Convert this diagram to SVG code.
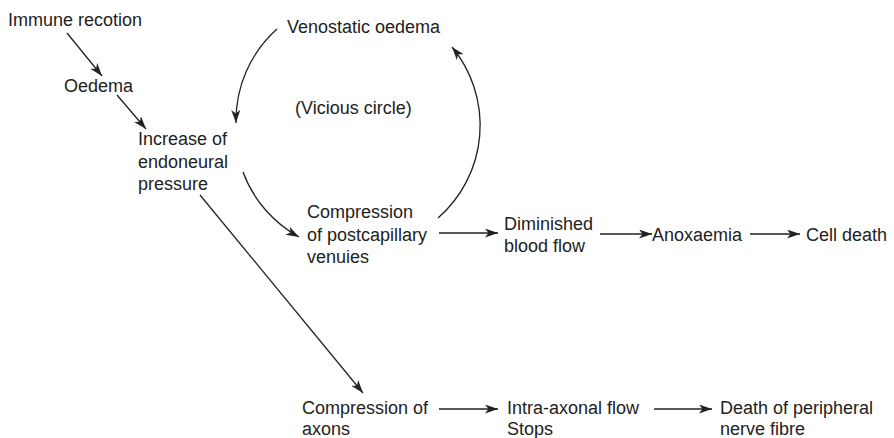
<svg xmlns="http://www.w3.org/2000/svg" width="894" height="438" viewBox="0 0 894 438">
<style>
text{font-family:"Liberation Sans",Arial,sans-serif;font-size:18px;fill:#222}
.c{fill:none;stroke:#222;stroke-width:1.3}
</style>
<defs>
<marker id="ah" markerUnits="userSpaceOnUse" markerWidth="14" markerHeight="10" refX="13" refY="4.5" orient="auto">
<path d="M0,0 L13,4.5 L0,9 L3.5,4.5 z" fill="#222"/>
</marker>
</defs>
<rect width="894" height="438" fill="#fff"/>
<g id="connectors">
<path class="c" d="M67,33 L102,76" marker-end="url(#ah)"/>
<path class="c" d="M117,95 L146,129" marker-end="url(#ah)"/>
<path class="c" d="M277,29 A123,123 0 0 0 236,123" marker-end="url(#ah)"/>
<path class="c" d="M243,172 A123,123 0 0 0 299,237" marker-end="url(#ah)"/>
<path class="c" d="M438,218 A123,123 0 0 0 452,47" marker-end="url(#ah)"/>
<path class="c" d="M200,195 L363,393" marker-end="url(#ah)"/>
<path class="c" d="M439,233 L498,233" marker-end="url(#ah)"/>
<path class="c" d="M600,234 L652,234" marker-end="url(#ah)"/>
<path class="c" d="M750,234 L800,234" marker-end="url(#ah)"/>
<path class="c" d="M439,409 L498,409" marker-end="url(#ah)"/>
<path class="c" d="M654,409 L712,409" marker-end="url(#ah)"/>
</g>
<g id="immune"><text x="8" y="26">Immune recotion</text></g>
<g id="oedema"><text x="64" y="92">Oedema</text></g>
<g id="increase"><text x="138" y="145">Increase of</text><text x="138" y="167.5">endoneural</text><text x="138" y="190">pressure</text></g>
<g id="venostatic"><text x="287" y="33">Venostatic oedema</text></g>
<g id="vicious"><text x="295" y="114">(Vicious circle)</text></g>
<g id="compression-venules"><text x="307" y="218">Compression</text><text x="307" y="240.5">of postcapillary</text><text x="307" y="263">venuies</text></g>
<g id="diminished"><text x="504" y="230">Diminished</text><text x="504" y="252">blood flow</text></g>
<g id="anoxaemia"><text x="652" y="241">Anoxaemia</text></g>
<g id="celldeath"><text x="806" y="241">Cell death</text></g>
<g id="compression-axons"><text x="302" y="414">Compression of</text><text x="302" y="435">axons</text></g>
<g id="intra-axonal"><text x="507" y="414">Intra-axonal flow</text><text x="507" y="435">Stops</text></g>
<g id="death-fibre"><text x="720" y="414">Death of peripheral</text><text x="720" y="435">nerve fibre</text></g>
</svg>
